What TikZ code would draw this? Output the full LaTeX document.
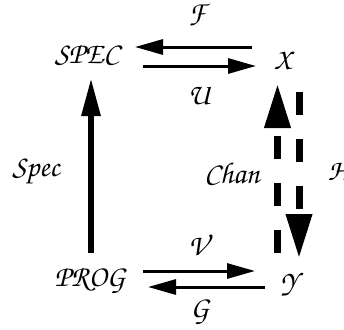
\documentclass[tikz,border=0pt]{standalone}
\usetikzlibrary{arrows.meta}
\newcommand\zcfont{\fontsize{30}{34}\usefont{T1}{pzc}{m}{it}}
\tikzset{
  lbl/.style={inner sep=0pt, font=\zcfont},
  thinarr/.style={line width=3pt, -{Triangle[length=28pt,width=15pt]}},
  thickarr/.style={line width=6pt, -{Triangle[length=38pt,width=18pt]}},
  dasharr/.style={line width=7pt, dash pattern=on 23pt off 24pt, -{Triangle[length=44pt,width=25pt]}},
}
\begin{document}
\begin{tikzpicture}[x=1pt,y=-1pt]
\useasboundingbox (0,0) rectangle (344,329);
\node[lbl] (spec) at (87,55) {SPEC};
\node[lbl] (x) at (283,60) {X};
\node[lbl] (prog) at (90,280) {PROG};
\node[lbl] (y) at (289,284) {Y};
\node[lbl] (lF) at (197,15) {F};
\node[lbl] (lU) at (199,95) {U};
\node[lbl] (lV) at (198,245) {V};
\node[lbl] (lG) at (200,312) {G};
\node[lbl] (lSpec) at (36,172) {Spec};
\node[lbl] (lChan) at (232,173) {Chan};
\node[lbl] (lH) at (338,170) {H};
% arrow ends
\coordinate (f1) at (252,47); \coordinate (f2) at (135,47);
\coordinate (u1) at (143,66); \coordinate (u2) at (256,66);
\coordinate (v1) at (143,271); \coordinate (v2) at (255,271);
\coordinate (g1) at (265,287); \coordinate (g2) at (148,287);
\coordinate (s1) at (91,253); \coordinate (s2) at (91,78);
\coordinate (c1) at (277.5,253); \coordinate (c2) at (277.5,84);
\coordinate (h1) at (299,92); \coordinate (h2) at (299,258);
\draw[thinarr] (f1) -- (f2);
\draw[thinarr] (u1) -- (u2);
\draw[thinarr] (v1) -- (v2);
\draw[thinarr] (g1) -- (g2);
\draw[thickarr] (s1) -- (s2);
\draw[dasharr] (c1) -- (c2);
\draw[dasharr] (h1) -- (h2);
\end{tikzpicture}
\end{document}
